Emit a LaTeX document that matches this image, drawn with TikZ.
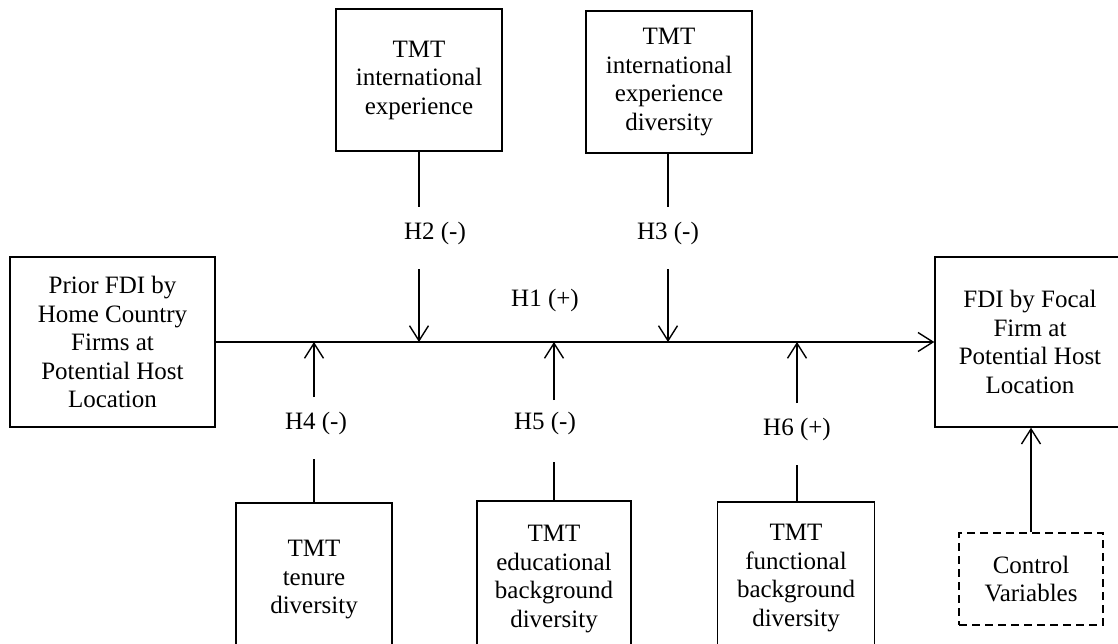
\documentclass[tikz,border=0pt]{standalone}
\usepackage{fontspec}
\setmainfont{Liberation Serif}
\usetikzlibrary{arrows.meta}
\begin{document}
\begin{tikzpicture}[x=1pt,y=-1pt,
  txt/.style={font=\fontsize{25}{28.5}\selectfont},
  box/.style={draw, line width=1.4pt, align=center, inner sep=0pt, txt},
  lab/.style={inner sep=0pt, txt},
  conn/.style={line width=1.4pt},
  arr/.style={conn, -{Straight Barb[length=15pt,width=19pt,line width=1.4pt]}}]
\useasboundingbox (0,0) rectangle (1118,643);
\clip (0,0) rectangle (1118,643);
% boxes
\node[box, minimum width=166pt, minimum height=142pt] (A) at (419,80) {TMT\\international\\experience};
\node[box, minimum width=166pt, minimum height=142pt] (B) at (669,82) {TMT\\international\\experience\\diversity};
\node[box, minimum width=205pt, minimum height=170pt] (L) at (112.5,342) {Prior FDI by\\Home Country\\Firms at\\Potential Host\\Location};
\node[box, minimum width=190pt, minimum height=170pt] (F) at (1030,342) {FDI by Focal\\Firm at\\Potential Host\\Location};
\node[box, minimum width=156pt, minimum height=154pt] (T) at (314,580) {TMT\\tenure\\diversity};
\node[box, minimum width=154pt, minimum height=156pt] (E) at (554,579) {TMT\\educational\\background\\diversity};
\node[box, minimum width=157pt, minimum height=152pt] (N) at (796,578) {TMT\\functional\\background\\diversity};
\node[box, dash pattern=on 8pt off 5pt, minimum width=144pt, minimum height=92pt] (C) at (1031,579) {Control\\Variables};
% labels
\node[lab] (h1) at (545,300) {H1 (+)};
\node[lab] (h2) at (435,233) {H2 (-)};
\node[lab] (h3) at (668,233) {H3 (-)};
\node[lab] (h4) at (316,423) {H4 (-)};
\node[lab] (h5) at (545,423) {H5 (-)};
\node[lab] (h6) at (797,429) {H6 (+)};
% break points
\coordinate (a1) at (419,207);
\coordinate (a2) at (419,269);
\coordinate (b1) at (668,207);
\coordinate (b2) at (668,269);
\coordinate (t1) at (314,459);
\coordinate (t2) at (314,397);
\coordinate (e1) at (554,462);
\coordinate (e2) at (554,400);
\coordinate (n1) at (797,465);
\coordinate (n2) at (797,403);
% main path
\draw[arr] (L.east) -- (F.west);
% moderators from above
\draw[conn] (A.south) -- (a1);
\draw[arr] (a2) -- (a2 |- L.east);
\draw[conn] (B.south -| b1) -- (b1);
\draw[arr] (b2) -- (b2 |- L.east);
% moderators from below
\draw[conn] (T.north) -- (t1);
\draw[arr] (t2) -- (t2 |- L.east);
\draw[conn] (E.north) -- (e1);
\draw[arr] (e2) -- (e2 |- L.east);
\draw[conn] (N.north -| n1) -- (n1);
\draw[arr] (n2) -- (n2 |- L.east);
% controls
\draw[arr] (C.north) -- (C.north |- F.south);
\end{tikzpicture}
\end{document}
